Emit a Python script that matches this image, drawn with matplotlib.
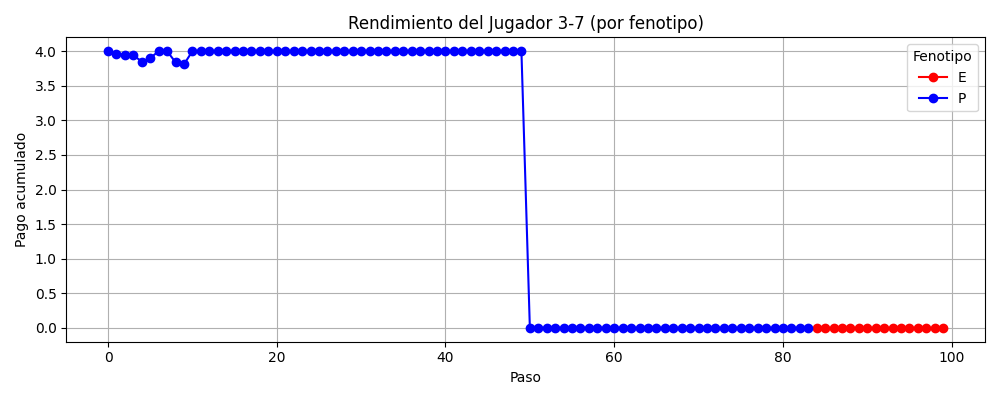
import matplotlib
matplotlib.use("Agg")
import matplotlib.pyplot as plt

# Payoff per step
pasos = list(range(100))
pago = ([4.0, 3.96, 3.95, 3.94, 3.85, 3.90, 4.0, 4.0, 3.84, 3.81]
        + [4.0] * 40
        + [0.0] * 50)
fenotipo = ["P"] * 84 + ["E"] * 16

colores = {"E": "red", "P": "blue"}

plt.figure(figsize=(10, 4))

# split into runs of the same phenotype
for fen in ["E", "P"]:
    xs = [x for x, f in zip(pasos, fenotipo) if f == fen]
    ys = [y for y, f in zip(pago, fenotipo) if f == fen]
    plt.plot(xs, ys, marker="o", color=colores[fen], label=fen)

plt.xlabel("Paso")
plt.ylabel("Pago acumulado")
plt.title("Rendimiento del Jugador 3-7 (por fenotipo)")
plt.legend(title="Fenotipo", loc="upper right")
plt.grid(True)
plt.tight_layout()
plt.savefig("out.png", dpi=100)
